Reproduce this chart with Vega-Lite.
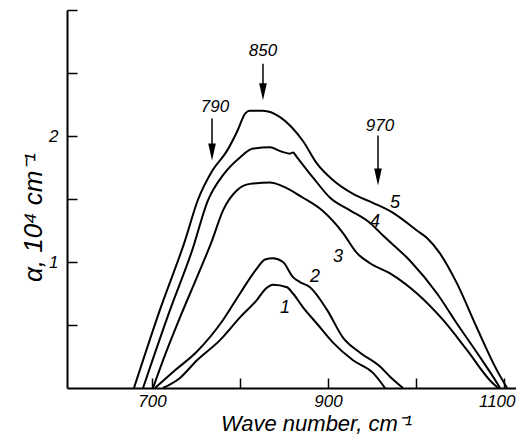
{
  "$schema": "https://vega.github.io/schema/vega-lite/v6.json",
  "autosize": "none",
  "width": 449,
  "height": 378,
  "padding": {"left": 67, "top": 10, "right": 0, "bottom": 52},
  "background": "white",
  "config": {
    "view": {"stroke": null},
    "font": "Liberation Sans",
    "axis": {
      "domainColor": "black",
      "domainWidth": 2,
      "tickColor": "black",
      "tickWidth": 1.5,
      "grid": false,
      "labelFont": "Liberation Sans",
      "labelFontStyle": "italic",
      "labelFontSize": 17,
      "labelColor": "black",
      "titleFont": "Liberation Sans",
      "titleFontStyle": "italic",
      "titleFontWeight": "normal",
      "titleColor": "black"
    }
  },
  "datasets": {
    "curves": [
      {"curve": "5", "wn": 679.5, "a": 0},
      {"curve": "5", "wn": 709, "a": 0.62},
      {"curve": "5", "wn": 737.5, "a": 1.17},
      {"curve": "5", "wn": 752, "a": 1.49},
      {"curve": "5", "wn": 769, "a": 1.73},
      {"curve": "5", "wn": 785, "a": 1.88},
      {"curve": "5", "wn": 797, "a": 2.04},
      {"curve": "5", "wn": 806, "a": 2.18},
      {"curve": "5", "wn": 811, "a": 2.2},
      {"curve": "5", "wn": 826, "a": 2.2},
      {"curve": "5", "wn": 845.5, "a": 2.15},
      {"curve": "5", "wn": 871.5, "a": 1.96},
      {"curve": "5", "wn": 887.5, "a": 1.78},
      {"curve": "5", "wn": 905.5, "a": 1.65},
      {"curve": "5", "wn": 928.5, "a": 1.54},
      {"curve": "5", "wn": 951, "a": 1.47},
      {"curve": "5", "wn": 974, "a": 1.39},
      {"curve": "5", "wn": 1001, "a": 1.25},
      {"curve": "5", "wn": 1012.5, "a": 1.19},
      {"curve": "5", "wn": 1027, "a": 1.07},
      {"curve": "5", "wn": 1046.5, "a": 0.83},
      {"curve": "5", "wn": 1069, "a": 0.48},
      {"curve": "5", "wn": 1092, "a": 0.14},
      {"curve": "5", "wn": 1103.5, "a": 0},
      {"curve": "4", "wn": 689.8, "a": 0},
      {"curve": "4", "wn": 720.5, "a": 0.62},
      {"curve": "4", "wn": 745.5, "a": 1.09},
      {"curve": "4", "wn": 763.6, "a": 1.49},
      {"curve": "4", "wn": 780.7, "a": 1.69},
      {"curve": "4", "wn": 800, "a": 1.83},
      {"curve": "4", "wn": 814.8, "a": 1.9},
      {"curve": "4", "wn": 834.1, "a": 1.91},
      {"curve": "4", "wn": 845.5, "a": 1.88},
      {"curve": "4", "wn": 856.8, "a": 1.86},
      {"curve": "4", "wn": 860.2, "a": 1.87},
      {"curve": "4", "wn": 864.8, "a": 1.83},
      {"curve": "4", "wn": 883, "a": 1.67},
      {"curve": "4", "wn": 902.3, "a": 1.51},
      {"curve": "4", "wn": 925, "a": 1.41},
      {"curve": "4", "wn": 947.7, "a": 1.31},
      {"curve": "4", "wn": 962.5, "a": 1.21},
      {"curve": "4", "wn": 993.2, "a": 1.01},
      {"curve": "4", "wn": 1023.9, "a": 0.75},
      {"curve": "4", "wn": 1046.6, "a": 0.51},
      {"curve": "4", "wn": 1069.3, "a": 0.28},
      {"curve": "4", "wn": 1092, "a": 0.04},
      {"curve": "4", "wn": 1095.5, "a": 0},
      {"curve": "3", "wn": 701.1, "a": 0},
      {"curve": "3", "wn": 712.5, "a": 0.22},
      {"curve": "3", "wn": 731.8, "a": 0.56},
      {"curve": "3", "wn": 751.1, "a": 0.88},
      {"curve": "3", "wn": 768.2, "a": 1.17},
      {"curve": "3", "wn": 780.7, "a": 1.41},
      {"curve": "3", "wn": 796.6, "a": 1.57},
      {"curve": "3", "wn": 811.4, "a": 1.62},
      {"curve": "3", "wn": 834.1, "a": 1.63},
      {"curve": "3", "wn": 845.5, "a": 1.61},
      {"curve": "3", "wn": 871.6, "a": 1.51},
      {"curve": "3", "wn": 893.2, "a": 1.41},
      {"curve": "3", "wn": 917, "a": 1.23},
      {"curve": "3", "wn": 933, "a": 1.07},
      {"curve": "3", "wn": 947.7, "a": 0.99},
      {"curve": "3", "wn": 970.5, "a": 0.91},
      {"curve": "3", "wn": 1001.1, "a": 0.75},
      {"curve": "3", "wn": 1030.7, "a": 0.54},
      {"curve": "3", "wn": 1058, "a": 0.3},
      {"curve": "3", "wn": 1084.1, "a": 0.06},
      {"curve": "3", "wn": 1093.2, "a": 0},
      {"curve": "2", "wn": 703.4, "a": 0},
      {"curve": "2", "wn": 726.1, "a": 0.14},
      {"curve": "2", "wn": 751.1, "a": 0.29},
      {"curve": "2", "wn": 780.7, "a": 0.54},
      {"curve": "2", "wn": 800, "a": 0.75},
      {"curve": "2", "wn": 819.3, "a": 0.95},
      {"curve": "2", "wn": 828.4, "a": 1.02},
      {"curve": "2", "wn": 837.5, "a": 1.03},
      {"curve": "2", "wn": 848.9, "a": 1.0},
      {"curve": "2", "wn": 860.2, "a": 0.88},
      {"curve": "2", "wn": 868.2, "a": 0.84},
      {"curve": "2", "wn": 879.5, "a": 0.8},
      {"curve": "2", "wn": 898.9, "a": 0.62},
      {"curve": "2", "wn": 917, "a": 0.4},
      {"curve": "2", "wn": 936.4, "a": 0.28},
      {"curve": "2", "wn": 959.1, "a": 0.17},
      {"curve": "2", "wn": 970.5, "a": 0.09},
      {"curve": "2", "wn": 985.2, "a": 0},
      {"curve": "1", "wn": 712.5, "a": 0},
      {"curve": "1", "wn": 731.8, "a": 0.08},
      {"curve": "1", "wn": 751.1, "a": 0.22},
      {"curve": "1", "wn": 777.3, "a": 0.38},
      {"curve": "1", "wn": 800, "a": 0.56},
      {"curve": "1", "wn": 819.3, "a": 0.7},
      {"curve": "1", "wn": 829.5, "a": 0.79},
      {"curve": "1", "wn": 837.5, "a": 0.82},
      {"curve": "1", "wn": 853.4, "a": 0.8},
      {"curve": "1", "wn": 860.2, "a": 0.75},
      {"curve": "1", "wn": 871.6, "a": 0.64},
      {"curve": "1", "wn": 887.5, "a": 0.51},
      {"curve": "1", "wn": 905.7, "a": 0.36},
      {"curve": "1", "wn": 928.4, "a": 0.22},
      {"curve": "1", "wn": 951.1, "a": 0.12},
      {"curve": "1", "wn": 964.8, "a": 0}
    ],
    "arrows": [
      {"label": "850", "wn": 826.1, "top": 2.573, "bot": 2.35, "head": 2.351, "ty": 2.676, "tx": 826.1},
      {"label": "790", "wn": 768.2, "top": 2.138, "bot": 1.87, "head": 1.873, "ty": 2.233, "tx": 771.6},
      {"label": "970", "wn": 956.8, "top": 2.003, "bot": 1.67, "head": 1.675, "ty": 2.082, "tx": 959.1}
    ],
    "curveLabels": [
      {"label": "5", "wn": 976.1, "a": 1.465},
      {"label": "4", "wn": 953.4, "a": 1.314},
      {"label": "3", "wn": 911.4, "a": 1.037},
      {"label": "2", "wn": 885.2, "a": 0.879},
      {"label": "1", "wn": 851.1, "a": 0.633}
    ]
  },
  "layer": [
    {
      "data": {"name": "curves"},
      "mark": {"type": "line", "color": "black", "strokeWidth": 2, "clip": true, "interpolate": "monotone"},
      "encoding": {
        "x": {
          "field": "wn", "type": "quantitative",
          "scale": {"domain": [603.4, 1113.6], "nice": false, "zero": false},
          "axis": {
            "values": [700, 800, 900, 1000, 1100],
            "tickSize": -10,
            "labelPadding": 15,
            "labelExpr": "datum.value == 700 ? '700' : datum.value == 900 ? '900' : datum.value == 1100 ? '1100' : ''",
            "labelFlush": false,
            "labelOverlap": false,
            "labelAlign": {"condition": {"test": "datum.value == 1100", "value": "right"}, "value": "center"},
            "labelOffset": {"condition": {"test": "datum.value == 1100", "value": 11}, "value": 0},
            "title": "Wave  number,  cm⁻¹",
            "titleFontSize": 22,
            "titleX": 249,
            "titleY": 42,
            "titleAnchor": "middle",
            "titleAlign": "center",
            "titleBaseline": "alphabetic"
          }
        },
        "y": {
          "field": "a", "type": "quantitative",
          "scale": {"domain": [0, 3], "nice": false},
          "axis": {
            "values": [0.5, 1, 1.5, 2, 2.5, 3],
            "tickSize": -10,
            "labelPadding": 19,
            "labelExpr": "datum.value == 1 ? '1' : datum.value == 2 ? '2' : ''",
            "title": "α,  10⁴ cm⁻¹",
            "titleFontSize": 26,
            "titleAngle": -90,
            "titleX": -26,
            "titleY": 207,
            "titleAlign": "center",
            "titleBaseline": "alphabetic"
          }
        },
        "detail": {"field": "curve"}
      }
    },
    {
      "data": {"name": "arrows"},
      "mark": {"type": "rule", "color": "black", "strokeWidth": 1.5},
      "encoding": {
        "x": {"field": "wn", "type": "quantitative"},
        "y": {"field": "top", "type": "quantitative"},
        "y2": {"field": "bot"}
      }
    },
    {
      "data": {"name": "arrows"},
      "mark": {"type": "point", "shape": "M-0.45,-1L0.45,-1L0,1Z", "size": 289, "filled": true, "color": "black", "opacity": 1},
      "encoding": {
        "x": {"field": "wn", "type": "quantitative"},
        "y": {"field": "head", "type": "quantitative"}
      }
    },
    {
      "data": {"name": "arrows"},
      "mark": {"type": "text", "font": "Liberation Sans", "fontStyle": "italic", "fontSize": 17, "color": "black", "baseline": "middle", "align": "center"},
      "encoding": {
        "x": {"field": "tx", "type": "quantitative"},
        "y": {"field": "ty", "type": "quantitative"},
        "text": {"field": "label"}
      }
    },
    {
      "data": {"name": "curveLabels"},
      "mark": {"type": "text", "font": "Liberation Sans", "fontStyle": "italic", "fontSize": 18, "color": "black", "baseline": "middle", "align": "center"},
      "encoding": {
        "x": {"field": "wn", "type": "quantitative"},
        "y": {"field": "a", "type": "quantitative"},
        "text": {"field": "label"}
      }
    }
  ]
}
